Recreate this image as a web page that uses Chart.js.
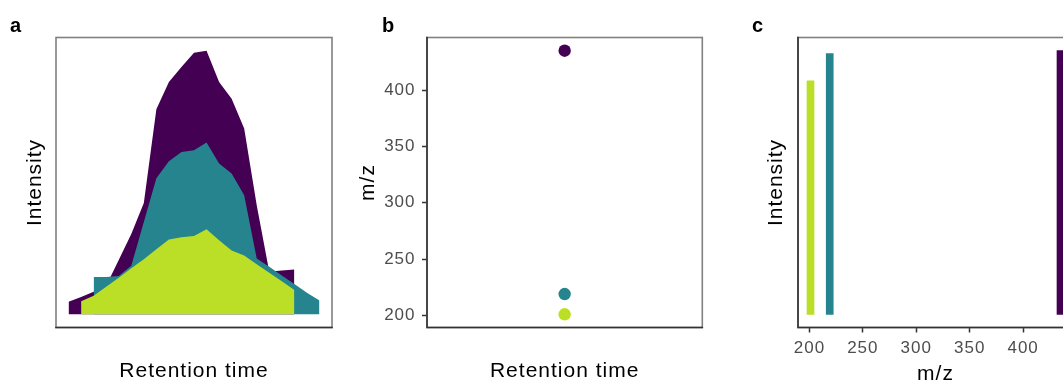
<!DOCTYPE html>
<html>
<head>
<meta charset="utf-8">
<script src="https://cdn.jsdelivr.net/npm/chart.js@4.4.1/dist/chart.umd.min.js"></script>
<style>
  html, body { margin:0; padding:0; background:#ffffff; overflow:hidden; width:1063px; height:381px; }
  #wrap { position:relative; width:1063px; height:381px; overflow:hidden; }
  #wrap canvas { position:absolute; top:0; }
  .lbl { position:absolute; font-family:"Liberation Sans", Arial, Helvetica, sans-serif; font-weight:bold; font-size:20px; line-height:20px; color:#000; }
</style>
</head>
<body>
<div id="wrap">
  <canvas id="ca" width="380" height="400" style="left:0px"></canvas>
  <canvas id="cb" width="400" height="400" style="left:340px"></canvas>
  <canvas id="cc" width="380" height="400" style="left:720px"></canvas>
  <div class="lbl" style="left:10px;top:14.8px">a</div>
  <div class="lbl" style="left:382px;top:14.8px">b</div>
  <div class="lbl" style="left:752px;top:14.8px">c</div>
</div>
<script>
// ---------------- data ----------------
const compoundColors = ['#440154', '#25848E', '#BBDF27'];   // purple, teal, lime

// Panel a: extracted ion chromatograms (retention time index vs. intensity)
const timePurple = [0,1,2,3,4,5,6,7,8,9,10,11,12,13,14,15,16,17,18];
const intensityPurple = [4.8,6.6,8.6,10.8,20.6,30.5,42.2,77.8,88.1,93.8,99.2,100,88.1,81.8,70.5,41.4,16.1,16.6,17.0];

const timeTeal = [2,3,4,5,6,7,8,9,10,11,12,13,14,15,16,17,18,19,20];
const intensityTeal = [14.2,14.2,14.5,18.4,35.0,51.6,58.1,61.6,62.2,65.2,57.2,53.4,45.2,21.2,18.0,14.7,11.5,8.2,5.2];

const timeLime = [1,2,3,4,5,6,7,8,9,10,11,12,13,14,15,16,17,18];
const intensityLime = [5.0,7.0,10.5,13.9,17.5,20.9,24.7,28.4,29.2,29.7,32.3,28.1,24.2,22.3,19.0,15.8,12.5,9.2];

// Panel b / c: compound apex retention time, m/z and spectrum intensity
const apexTime = [10, 10, 10];
const compoundMz = [435, 219, 201];
const compoundIntensity = [100, 98.9, 88.6];

const mzTicks = [200, 250, 300, 350, 400];

// ---------------- helpers ----------------
const FONT = '"Liberation Sans", Arial, Helvetica, sans-serif';
function expand(lo, hi) { const d = (hi - lo) * 0.05; return [lo - d, hi + d]; }
const allTimes = timePurple.concat(timeTeal, timeLime);
const rtRange = expand(Math.min(...allTimes), Math.max(...allTimes));
const intRange = expand(0, Math.max(...intensityPurple, ...intensityTeal, ...intensityLime, ...compoundIntensity));
const mzRange = expand(Math.min(...compoundMz), Math.max(...compoundMz));

function pts(xs, ys) { return xs.map((x, i) => ({ x: x, y: ys[i] })); }

const framePlugin = {
  id: 'frame',
  afterDatasetsDraw(chart, args, opts) {
    const { left, right, top, bottom } = chart.chartArea;
    const ctx = chart.ctx;
    ctx.save();
    ctx.strokeStyle = '#808080';
    ctx.lineWidth = 1.6;
    ctx.strokeRect(left, top, right - left, bottom - top);
    ctx.strokeStyle = '#333333';
    ctx.lineWidth = 1.6;
    ctx.beginPath();
    if (opts.left) { ctx.moveTo(left, top - 0.8); ctx.lineTo(left, bottom + 0.8); }
    if (opts.bottom) { ctx.moveTo(left - 0.8, bottom); ctx.lineTo(right + 0.8, bottom); }
    ctx.stroke();
    ctx.restore();
  }
};
const spacingPlugin = {
  id: 'spacing',
  beforeDraw(chart) { try { chart.ctx.letterSpacing = '1px'; } catch (e) {} }
};

function xTitle(text, padBottom) {
  return { display: true, text: text, color: '#000', font: { family: FONT, size: 21, lineHeight: 1 }, padding: { top: 0, bottom: padBottom } };
}
function yTitle(text, padTop) {
  return { display: true, text: text, color: '#000', font: { family: FONT, size: 21, lineHeight: 1 }, padding: { top: padTop, bottom: 0 } };
}
const hiddenTicks = { display: false };
const noGrid = { display: false };
const tickGrid = { display: true, drawOnChartArea: false, drawTicks: true, tickLength: 5, color: '#333333', tickColor: '#333333', tickWidth: 1.5, offset: false };
const tickFont = { family: FONT, size: 17, lineHeight: 1.2 };

const baseOpts = (padRight) => ({
  responsive: false,
  animation: false,
  events: [],
  layout: { padding: { top: 37.5, right: padRight, bottom: 0, left: 0 } },
});

// ---------------- panel a ----------------
new Chart(document.getElementById('ca'), {
  type: 'line',
  data: {
    datasets: [
      { data: pts(timeLime, intensityLime), backgroundColor: compoundColors[2] },
      { data: pts(timeTeal, intensityTeal), backgroundColor: compoundColors[1] },
      { data: pts(timePurple, intensityPurple), backgroundColor: compoundColors[0] }
    ].map(d => Object.assign(d, { fill: 'origin', borderWidth: 0, borderColor: 'rgba(0,0,0,0)', pointRadius: 0, tension: 0 }))
  },
  options: Object.assign(baseOpts(48), {
    plugins: { legend: { display: false }, tooltip: { enabled: false }, frame: { left: false, bottom: true } },
    scales: {
      x: { type: 'linear', min: rtRange[0], max: rtRange[1], ticks: hiddenTicks, grid: noGrid, border: { display: false },
           title: xTitle('Retention time', 18.5), afterFit: s => { s.height = 72.5; } },
      y: { type: 'linear', min: intRange[0], max: intRange[1], ticks: hiddenTicks, grid: noGrid, border: { display: false },
           title: yTitle('Intensity', 24.7), afterFit: s => { s.width = 56; } }
    }
  }),
  plugins: [framePlugin, spacingPlugin]
});

// ---------------- panel b ----------------
new Chart(document.getElementById('cb'), {
  type: 'scatter',
  data: {
    datasets: [{
      data: pts(apexTime, compoundMz),
      pointBackgroundColor: compoundColors,
      pointBorderWidth: 0,
      pointRadius: 6.2
    }]
  },
  options: Object.assign(baseOpts(37.7), {
    plugins: { legend: { display: false }, tooltip: { enabled: false }, frame: { left: true, bottom: true } },
    scales: {
      x: { type: 'linear', min: rtRange[0], max: rtRange[1], ticks: hiddenTicks, grid: noGrid, border: { display: false },
           title: xTitle('Retention time', 18.5), afterFit: s => { s.height = 72.5; } },
      y: { type: 'linear', min: mzRange[0], max: mzRange[1],
           ticks: { color: '#4d4d4d', font: tickFont, padding: 6.5 },
           afterBuildTicks: s => { s.ticks = mzTicks.map(v => ({ value: v })); },
           grid: tickGrid, border: { display: false },
           title: yTitle('m/z', 17.5), afterFit: s => { s.width = 87; } }
    }
  }),
  plugins: [framePlugin, spacingPlugin]
});

// ---------------- panel c ----------------
new Chart(document.getElementById('cc'), {
  type: 'bar',
  data: {
    datasets: [{
      data: pts(compoundMz, compoundIntensity),
      backgroundColor: compoundColors,
      borderWidth: 0,
      barThickness: 7
    }]
  },
  options: Object.assign(baseOpts(27), {
    plugins: { legend: { display: false }, tooltip: { enabled: false }, frame: { left: true, bottom: true } },
    scales: {
      x: { type: 'linear', offset: false, min: mzRange[0], max: mzRange[1],
           ticks: { color: '#4d4d4d', font: tickFont, padding: 5.5 },
           afterBuildTicks: s => { s.ticks = mzTicks.map(v => ({ value: v })); },
           grid: tickGrid, border: { display: false },
           title: xTitle('m/z', 15), afterFit: s => { s.height = 72.5; } },
      y: { type: 'linear', min: intRange[0], max: intRange[1], ticks: hiddenTicks, grid: noGrid, border: { display: false },
           title: yTitle('Intensity', 45.7), afterFit: s => { s.width = 78; } }
    }
  }),
  plugins: [framePlugin, spacingPlugin]
});
</script>
</body>
</html>
